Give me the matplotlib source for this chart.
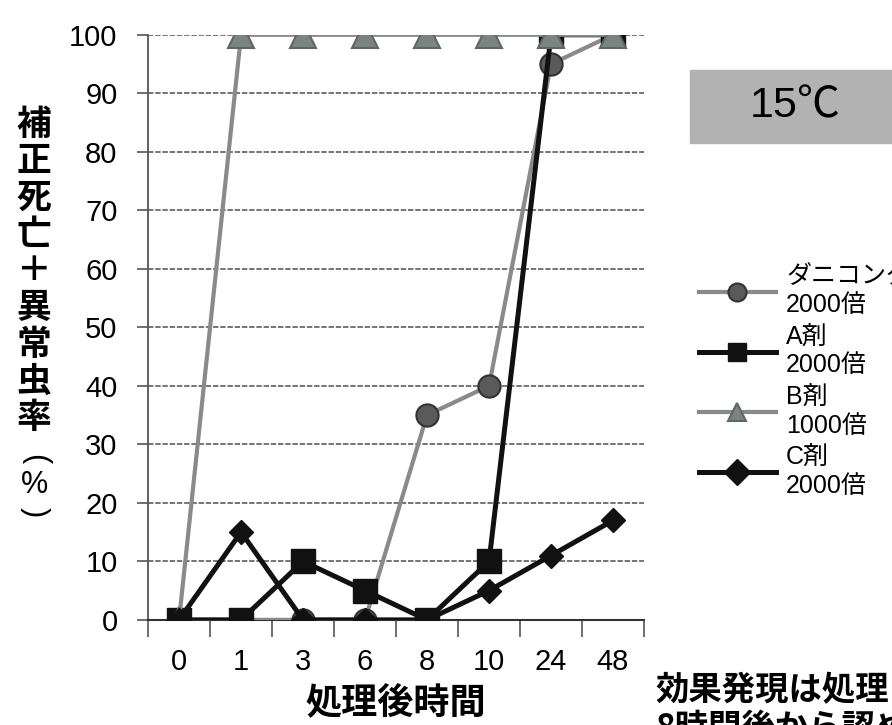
import numpy as np
import matplotlib.pyplot as plt
from matplotlib.patches import Rectangle

plt.rcParams['font.family'] = ['Liberation Sans', 'Noto Sans CJK JP', 'DejaVu Sans']

# 処理後時間 (h) と各薬剤の補正死亡＋異常虫率
hours = ['0', '1', '3', '6', '8', '10', '24', '48']
dani = [0, 0, 0, 0, 35, 40, 95, 100]
agent_a = [0, 0, 10, 5, 0, 10, 100, 100]
agent_b = [0, 100, 100, 100, 100, 100, 100, 100]
agent_c = [0, 15, 0, 0, 0, 5, 11, 17]
labels = ['ダニコング\n2000倍', 'A剤\n2000倍', 'B剤\n1000倍', 'C剤\n2000倍']
yticks = [0, 10, 20, 30, 40, 50, 60, 70, 80, 90, 100]

jp = ['Noto Sans CJK JP', 'DejaVu Sans']

fig = plt.figure(figsize=(8.92, 7.25), dpi=100)
ax = fig.add_axes([0.166, 0.145, 0.556, 0.807])

x = np.arange(len(hours))
gray_line = '#8a8a8a'
ax.plot(x, dani, color=gray_line, lw=3, marker='o', ms=16,
        mfc='#5a5a5a', mec='#333333', mew=1.5, zorder=3, label=labels[0])
ax.plot(x, agent_a, color='#111111', lw=3.6, marker='s', ms=17,
        mfc='#111111', mec='#111111', zorder=4, label=labels[1])
ax.plot(x, agent_b, color=gray_line, lw=3, marker='^', ms=19,
        mfc='#7b8481', mec='#5f6664', mew=1.5, zorder=5, label=labels[2])
ax.plot(x, agent_c, color='#111111', lw=3.6, marker='D', ms=12,
        mfc='#111111', mec='#111111', zorder=6, label=labels[3])

ax.set_xlim(-0.5, len(hours) - 0.5)
ax.set_ylim(0, 100)
ax.set_yticks(yticks)
ax.set_yticklabels([str(v) for v in yticks], fontsize=21)
# 目盛線は項目の境界、ラベルは項目の中央
ax.set_xticks(np.arange(-0.5, len(hours)), labels=[''] * (len(hours) + 1))
ax.set_xticks(x, labels=hours, minor=True, fontsize=21)
ax.tick_params(axis='x', which='minor', length=0, pad=20)
ax.tick_params(axis='x', which='major', length=12, width=1.2, color='#555555')
ax.tick_params(axis='y', length=8, width=1.2, color='#555555', pad=14)

ax.grid(axis='y', color='#6a6a6a', lw=1.3, ls=(0, (3, 1)))
ax.set_axisbelow(True)
for side in ['top', 'right']:
    ax.spines[side].set_visible(False)
ax.spines['left'].set_color('#555555')
ax.spines['left'].set_linewidth(1.3)
ax.spines['bottom'].set_color('#333333')
ax.spines['bottom'].set_linewidth(1.5)

ax.set_xlabel('処理後時間', fontsize=26, labelpad=6, family=jp,
              fontweight='bold')

# 縦書きの軸ラベル
fig.text(34 / 892, 1 - 271 / 725, '\n'.join('補正死亡＋異常虫率'), fontsize=25,
         ha='center', va='center', linespacing=1.06, family=jp,
         fontweight='bold')
fig.text(35 / 892, 1 - 459 / 725, '(', fontsize=22, rotation=-90,
         ha='center', va='center')
fig.text(35 / 892, 1 - 485 / 725, '%', fontsize=22,
         ha='center', va='center')
fig.text(35 / 892, 1 - 512 / 725, ')', fontsize=22, rotation=-90,
         ha='center', va='center')

# 温度表示
fig.patches.append(Rectangle((690 / 892, 1 - 143 / 725), 210 / 892, 73 / 725,
                             transform=fig.transFigure, color='#b2b2b2'))
fig.text(795 / 892, 1 - 106 / 725, '15℃', fontsize=31,
         ha='center', va='center')

handles, labs = ax.get_legend_handles_labels()
leg = fig.legend(handles, labs,
                 loc='upper left', bbox_to_anchor=(686 / 892, 1 - 252 / 725),
                 frameon=False, fontsize=18, handlelength=3.1,
                 handletextpad=0.4, labelspacing=0.3, borderpad=0)
for line in leg.get_lines():
    line.set_markersize(13)
for t in leg.get_texts():
    t.set_linespacing(1.25)

fig.text(655 / 892, 1 - 700 / 725, '効果発現は処理', fontsize=24,
         ha='left', va='baseline', family=jp, fontweight='bold')
fig.text(655 / 892, 1 - 738 / 725, '8時間後から認められた', fontsize=24,
         ha='left', va='baseline', family=jp, fontweight='bold')

fig.savefig('out.png', dpi=100)
